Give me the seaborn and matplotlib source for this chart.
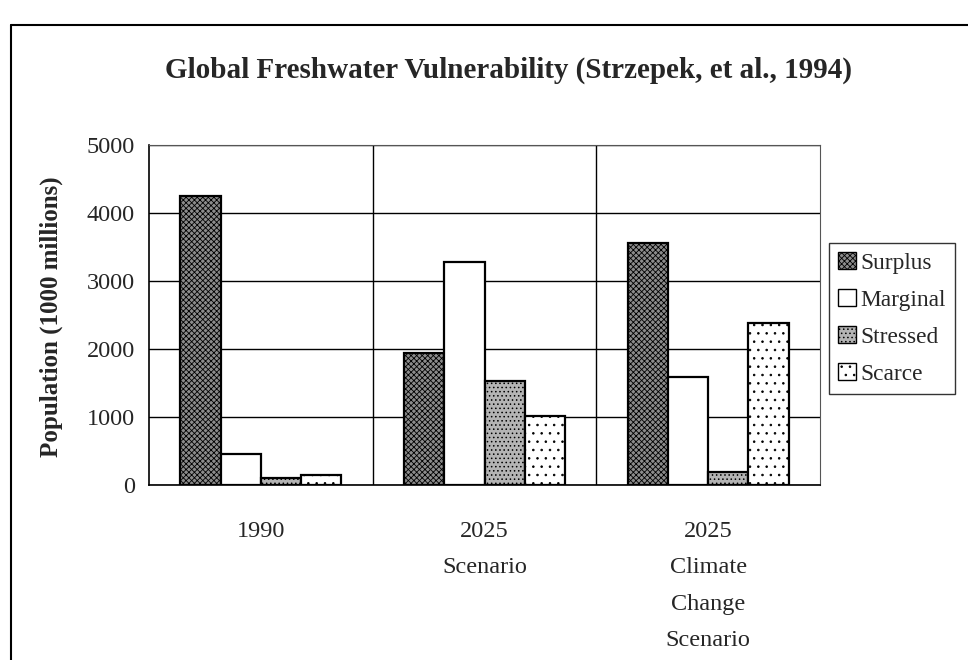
import numpy as np
import pandas as pd
import matplotlib
matplotlib.use("Agg")
import matplotlib.pyplot as plt
from matplotlib.lines import Line2D
from matplotlib.patches import Patch
import seaborn as sns

# data
scenarios = ["1990", "2025\nScenario", "2025\nClimate\nChange\nScenario"]
classes = ["Surplus", "Marginal", "Stressed", "Scarce"]
surplus = [4250, 1940, 3560]
marginal = [460, 3280, 1590]
stressed = [100, 1530, 190]
scarce = [150, 1010, 2380]

df = pd.DataFrame({
    "scenario": scenarios * 4,
    "cls": sum([[c] * 3 for c in classes], []),
    "pop": surplus + marginal + stressed + scarce,
})

sns.set_style("white")
plt.rcParams["font.family"] = ["Liberation Serif", "DejaVu Serif"]
plt.rcParams["hatch.linewidth"] = 0.6

faces = {"Surplus": "#8c8c8c", "Marginal": "white", "Stressed": "#b4b4b4", "Scarce": "white"}
hatches = {"Surplus": "xxxxxx", "Marginal": "", "Stressed": "....", "Scarce": ".."}

fig = plt.figure(figsize=(9.68, 6.6), dpi=100)
ax = fig.add_axes([149/968, 1-485/660, (820-149)/968, (485-145)/660])

sns.barplot(data=df, x="scenario", y="pop", hue="cls", hue_order=classes,
            palette=faces, width=0.72, gap=0, edgecolor="black", linewidth=1.6,
            legend=False, ax=ax, zorder=3)

for bars, c in zip(ax.containers, classes):
    for b in bars:
        b.set_hatch(hatches[c])

ax.set_ylim(0, 5000)
ax.set_xlim(-0.5, 2.5)
ax.set_yticks(range(0, 5001, 1000))
ax.yaxis.grid(True, color="black", linewidth=1.0, zorder=0)
for xb in [0.5, 1.5]:
    ax.axvline(xb, color="black", linewidth=1.0, zorder=0)
for s in ["top", "right"]:
    ax.spines[s].set_color("#555555")
for s in ["left", "bottom"]:
    ax.spines[s].set_color("black")
    ax.spines[s].set_linewidth(1.2)

ax.set_xticks([0.5, 1.5], minor=True)
ax.tick_params(axis="x", which="major", length=0, pad=26, labelsize=17.5)
ax.tick_params(axis="x", which="minor", length=7, width=1, direction="out", color="black")
ax.tick_params(axis="y", length=6, width=1, direction="out", color="black", labelsize=17.5, pad=4)
for t in ax.get_xticklabels():
    t.set_linespacing(1.95)
    t.set_verticalalignment("top")

ax.set_xlabel("")
ax.set_ylabel("Population (1000 millions)", fontsize=18, fontweight="bold", labelpad=12)
ax.yaxis.set_label_coords(-0.128, 0.495)

fig.text(0.525, 1-70/660, "Global Freshwater Vulnerability (Strzepek, et al., 1994)",
         ha="center", va="center", fontsize=21, fontweight="bold")

handles = [Patch(facecolor=faces[c], edgecolor="black", hatch=hatches[c], linewidth=1.0) for c in classes]
leg = fig.legend(handles, classes, loc="upper left", bbox_to_anchor=(829/968, 1-243/660),
                 fontsize=16.8, frameon=True, fancybox=False, edgecolor="black",
                 handlelength=0.75, handleheight=0.75, handletextpad=0.2,
                 labelspacing=0.65, borderpad=0.4, borderaxespad=0)
leg.get_frame().set_linewidth(1.0)

# outer chart frame
fig.add_artist(Line2D([11/968, 11/968], [0, 1-25/660], color="black", linewidth=1.5, transform=fig.transFigure))
fig.add_artist(Line2D([11/968, 1], [1-25/660, 1-25/660], color="black", linewidth=1.5, transform=fig.transFigure))

fig.savefig("out.png", dpi=100)
